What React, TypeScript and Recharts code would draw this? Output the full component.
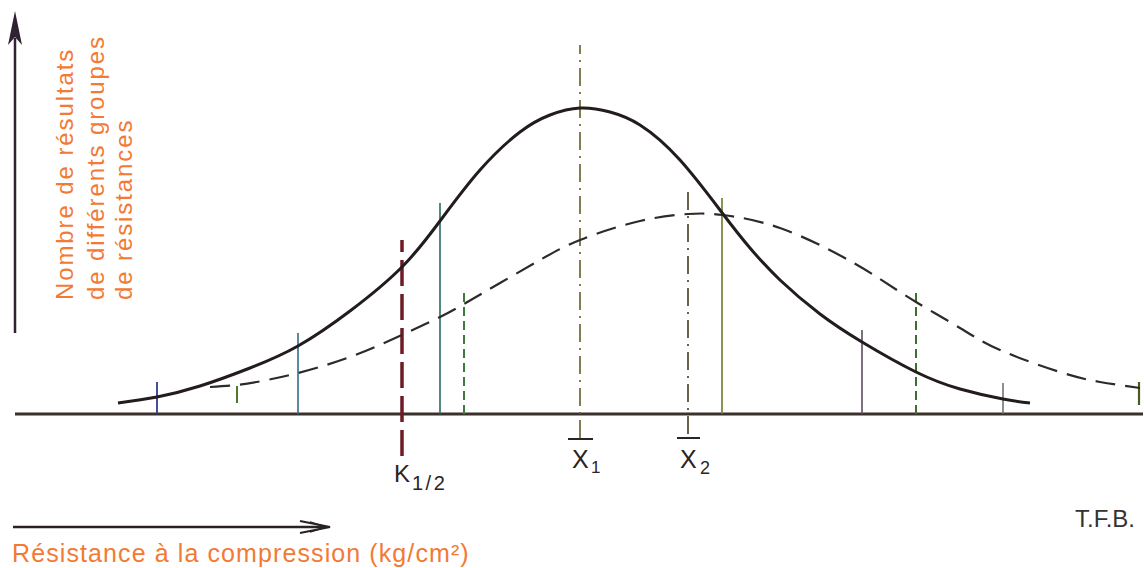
import React from 'react';
import { ComposedChart, Line, XAxis, YAxis, ReferenceLine } from 'recharts';

const W = 1144;
const H = 568;

// Solid distribution (group 1): resistance position -> number of results (height above baseline)
const solidX = [118, 157, 200, 250, 298, 350, 402, 440, 480, 520, 550, 580, 610, 640, 680, 723, 750, 780, 820, 862, 916, 960, 1003, 1030];
const solidY = [11, 17, 28, 46, 68, 103, 147, 193, 244, 282, 299, 306, 302, 289, 254, 200, 166, 134, 100, 72, 42, 25, 15, 11];

// Dashed distribution (group 2)
const dashedX = [210, 237, 262, 298, 350, 402, 440, 464, 500, 540, 580, 640, 688, 723, 780, 843, 880, 916, 960, 1000, 1060, 1100, 1140];
const dashedY = [27, 29, 33, 41, 57, 79, 97, 110, 131, 154, 174, 193, 200, 199, 186, 157, 135, 112, 86, 64, 42, 32, 26];

// Vertical markers: position, top value, bottom value
const markerX = [157, 237, 298, 402, 440, 464, 580, 688, 722, 862, 916, 1003, 1139];
const markerTop = [32, 28, 81, 174, 211, 121, 369, 226, 216, 84, 122, 31, 32];
const markerBottom = [0, 11, 0, -42, 0, 0, -24, -20, 0, 0, 0, 0, 9];

// Styles for the markers (same order)
const markerStyle = [
  { stroke: '#2d3e8c', w: 1.8, dash: undefined },
  { stroke: '#4e7a2a', w: 2, dash: undefined },
  { stroke: '#2e6f86', w: 1.6, dash: undefined },
  { stroke: '#6e1b24', w: 3.5, dash: '26 8' },
  { stroke: '#2a6a5e', w: 1.6, dash: undefined },
  { stroke: '#3d7a3e', w: 2, dash: '9 5' },
  { stroke: '#6a5a28', w: 1.6, dash: '18 6 2 6' },
  { stroke: '#4a3a20', w: 1.6, dash: '18 6 2 6' },
  { stroke: '#6f7a2a', w: 1.6, dash: undefined },
  { stroke: '#5b4f5e', w: 1.6, dash: undefined },
  { stroke: '#3d6e2e', w: 2, dash: '9 5' },
  { stroke: '#6a6a6a', w: 1.5, dash: undefined },
  { stroke: '#4a5a20', w: 2.2, dash: undefined },
];

const yLabelLines = ['Nombre de résultats', 'de différents groupes', 'de résistances'];
const xLabel = 'Résistance à la compression (kg/cm²)';
const sourceLabel = 'T.F.B.';

const solidData = solidX.map((x, i) => ({ x, y: solidY[i] }));
const dashedData = dashedX.map((x, i) => ({ x, y: dashedY[i] }));

const FONT = '"Liberation Sans", Arial, Helvetica, sans-serif';
const ORANGE = '#f27a34';
const INK = '#2a2424';

export default function App() {
  return (
    <div style={{ position: 'absolute', left: 0, top: 0, width: W, height: H, background: '#ffffff' }}>
      <ComposedChart width={W} height={H} margin={{ top: 0, right: 0, bottom: 0, left: 0 }}>
        <XAxis type="number" dataKey="x" domain={[0, 1144]} hide allowDataOverflow />
        <YAxis type="number" dataKey="y" domain={[-154, 414]} hide allowDataOverflow />
        {/* baseline */}
        <ReferenceLine
          segment={[{ x: 15, y: 0 }, { x: 1143, y: 0 }]}
          stroke="#3a302c"
          strokeWidth={3}
          ifOverflow="visible"
        />
        {/* y axis line */}
        <ReferenceLine
          segment={[{ x: 15, y: 81 }, { x: 15, y: 376 }]}
          stroke="#2e2233"
          strokeWidth={2.5}
          ifOverflow="visible"
        />
        {/* bottom arrow */}
        <ReferenceLine
          segment={[{ x: 13, y: -113 }, { x: 326, y: -113 }]}
          stroke="#2a2222"
          strokeWidth={2.5}
          ifOverflow="visible"
        />
        {markerX.map((x, i) => (
          <ReferenceLine
            key={'m' + i}
            segment={[{ x, y: markerBottom[i] }, { x, y: markerTop[i] }]}
            stroke={markerStyle[i].stroke}
            strokeWidth={markerStyle[i].w}
            strokeDasharray={markerStyle[i].dash}
            ifOverflow="visible"
          />
        ))}
        <Line
          data={dashedData}
          dataKey="y"
          type="natural"
          stroke="#2f2a2a"
          strokeWidth={2.2}
          strokeDasharray="20 10"
          dot={false}
          activeDot={false}
          isAnimationActive={false}
        />
        <Line
          data={solidData}
          dataKey="y"
          type="natural"
          stroke="#231c1c"
          strokeWidth={3}
          dot={false}
          activeDot={false}
          isAnimationActive={false}
        />
      </ComposedChart>
      <svg
        width={W}
        height={H}
        style={{ position: 'absolute', left: 0, top: 0, pointerEvents: 'none' }}
      >
        {/* y arrow head */}
        <polygon points="15,11 22,45 15,37 8,45" fill="#2e2233" />
        {/* x arrow head */}
        <polyline points="300,521 330,527 300,533" fill="none" stroke="#2a2222" strokeWidth={2} />
        <polyline points="310,522 326,527 310,532" fill="none" stroke="#2a2222" strokeWidth={1.5} />
        {/* y label */}
        {yLabelLines.map((t, i) => {
          const bx = [73, 104, 132][i];
          return (
            <text
              key={'yl' + i}
              x={bx}
              y={300}
              transform={`rotate(-90, ${bx}, 300)`}
              fontFamily={FONT}
              fontSize={24}
              letterSpacing={1.9}
              fill={ORANGE}
            >
              {t}
            </text>
          );
        })}
        {/* x label */}
        <text x={12} y={562} fontFamily={FONT} fontSize={25} letterSpacing={1.1} fill={ORANGE}>
          {xLabel}
        </text>
        <text x={1075} y={527} fontFamily={FONT} fontSize={24} fill="#333333">
          {sourceLabel}
        </text>
        {/* K 1/2 */}
        <text x={394} y={482} fontFamily={FONT} fontSize={24} fill={INK}>K</text>
        <text x={412} y={490} fontFamily={FONT} fontSize={20} letterSpacing={2.5} fill={INK}>1/2</text>
        {/* X bar 1 */}
        <line x1={568} y1={439} x2={593} y2={439} stroke={INK} strokeWidth={2} />
        <text x={572} y={468} fontFamily={FONT} fontSize={25} fill={INK}>X</text>
        <text x={591} y={473} fontFamily={FONT} fontSize={17} fill={INK}>1</text>
        {/* X bar 2 */}
        <line x1={677} y1={438} x2={700} y2={438} stroke={INK} strokeWidth={2} />
        <text x={680} y={468} fontFamily={FONT} fontSize={25} fill={INK}>X</text>
        <text x={700} y={474} fontFamily={FONT} fontSize={18} fill={INK}>2</text>
      </svg>
    </div>
  );
}
